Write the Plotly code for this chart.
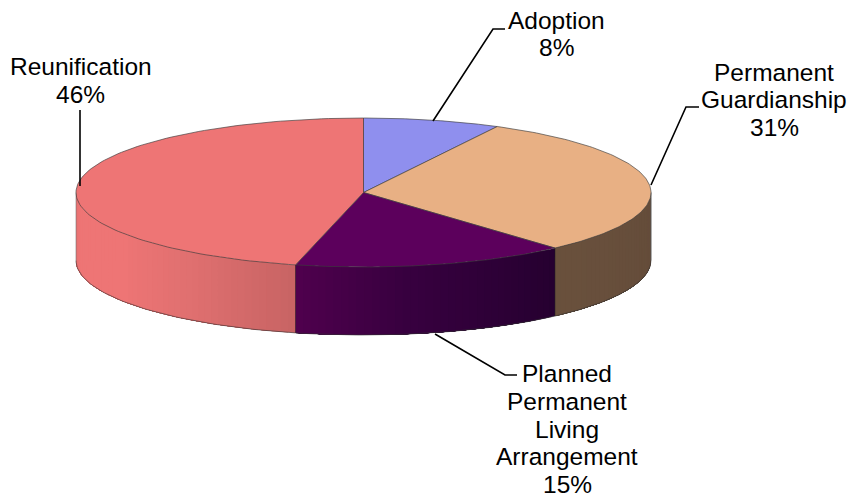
import numpy as np
import plotly.graph_objects as go

categories = ["Adoption", "Permanent Guardianship", "Planned Permanent Living Arrangement", "Reunification"]
values = [7.7, 30.7, 15.4, 46.2]
top_colors = ["#8F8FEE", "#E8B084", "#5C005C", "#EE7575"]

# side shading: (fraction across visible arc, colour)
side_stops = {
    "Adoption": [(0, "#8F8FEE"), (1, "#8F8FEE")],
    "Permanent Guardianship": [(0, "#644C3A"), (1, "#6A513D")],
    "Planned Permanent Living Arrangement": [(0, "#260030"), (0.6, "#380040"), (1, "#50004E")],
    "Reunification": [(0, "#C86464"), (0.3, "#E07070"), (0.55, "#EE7575"), (0.9, "#EE7575"), (1, "#DA6C6C")],
}

label_lines = [["Adoption"], ["Permanent", "Guardianship"], ["Planned", "Permanent", "Living", "Arrangement"], ["Reunification"]]
label_x = [556, 774, 567, 80.5]
label_y = [20, 72, 373.5, 66.5]
leader_x = [[505, 493, 433], [699, 686, 651], [517, 505, 435], [80, 80]]
leader_y = [[29, 29, 121], [107, 107, 185], [375, 375, 334], [110, 186]]

cx, cy, rx, ry, depth = 363.5, 192.5, 287.5, 74.5, 68
line_h = 27.8


def rim(a):
    return cx + rx * np.sin(a), cy - ry * np.cos(a)


def hex_rgb(c):
    return np.array([int(c[i:i + 2], 16) for i in (1, 3, 5)], dtype=float)


def shade(stops, f):
    xs = [s[0] for s in stops]
    rgb = [np.interp(f, xs, [hex_rgb(s[1])[k] for s in stops]) for k in range(3)]
    return "rgb(%d,%d,%d)" % tuple(rgb)


fig = go.Figure()
edges = np.cumsum([0] + values) / sum(values) * 2 * np.pi

# sides first, each strip runs to the end of the slice so no seams show
for i, name in enumerate(categories):
    a0, a1 = max(edges[i], np.pi / 2), min(edges[i + 1], 3 * np.pi / 2)
    if a1 <= a0:
        continue
    n = max(2, int((a1 - a0) / np.radians(1.5)))
    steps = np.linspace(a0, a1, n + 1)
    for j in range(n):
        arc = np.linspace(steps[j], a1, 60)
        x, y = rim(arc)
        col = shade(side_stops[name], (j + 0.5) / n)
        fig.add_trace(go.Scatter(
            x=np.r_[x, x[::-1]], y=np.r_[y, y[::-1] + depth],
            mode="none", fill="toself", fillcolor=col,
            hoverinfo="skip", showlegend=False))
    arc = np.linspace(a0, a1, 60)
    x, y = rim(arc)
    fig.add_trace(go.Scatter(x=x, y=y + depth, mode="lines",
                             line=dict(color="rgba(50,50,50,0.6)", width=1),
                             hoverinfo="skip", showlegend=False))
    fig.add_trace(go.Scatter(x=[x[0], x[0]], y=[y[0], y[0] + depth], mode="lines",
                             line=dict(color="rgba(30,30,30,0.5)", width=1),
                             hoverinfo="skip", showlegend=False))

# outer verticals of the cylinder
for a in (np.pi / 2, 3 * np.pi / 2):
    x, y = rim(a)
    fig.add_trace(go.Scatter(x=[x, x], y=[y, y + depth], mode="lines",
                             line=dict(color="rgba(120,120,120,0.6)", width=1),
                             hoverinfo="skip", showlegend=False))

# top face
for i, name in enumerate(categories):
    arc = np.linspace(edges[i], edges[i + 1], 120)
    x, y = rim(arc)
    fig.add_trace(go.Scatter(
        x=np.r_[cx, x, cx], y=np.r_[cy, y, cy], name=name,
        mode="lines", fill="toself", fillcolor=top_colors[i],
        line=dict(color="rgba(60,60,60,0.65)", width=1),
        hoverinfo="skip", showlegend=False))

# leaders
for lx, ly in zip(leader_x, leader_y):
    fig.add_trace(go.Scatter(x=lx, y=ly, mode="lines", line=dict(color="black", width=1.6),
                             hoverinfo="skip", showlegend=False))

# labels, one annotation a line because the line pitch is tighter than plotly's
for i, lines in enumerate(label_lines):
    rows = lines + ["%d%%" % round(values[i])]
    for k, txt in enumerate(rows):
        fig.add_annotation(x=label_x[i], y=label_y[i] + k * line_h, text=txt, showarrow=False,
                           xanchor="center", yanchor="middle",
                           font=dict(family="Liberation Sans", size=24.5, color="black"))

fig.update_xaxes(range=[0, 852], visible=False, fixedrange=True)
fig.update_yaxes(range=[497, 0], visible=False, fixedrange=True)
fig.update_layout(width=852, height=497, margin=dict(l=0, r=0, t=0, b=0),
                  paper_bgcolor="white", plot_bgcolor="white", showlegend=False)
fig.write_html("out.html", config={"displayModeBar": False},
               post_script="document.body.style.margin='0';document.body.style.overflow='hidden';")
